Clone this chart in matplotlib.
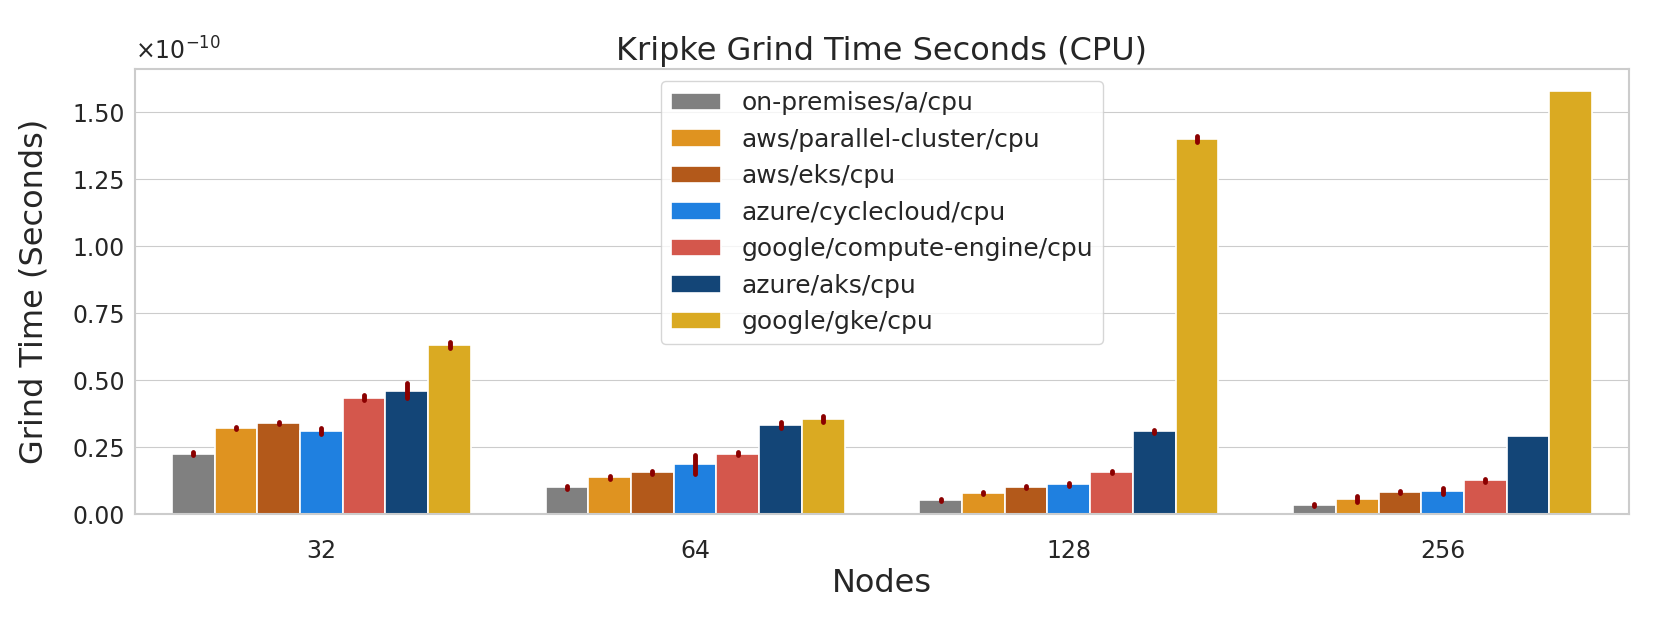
import matplotlib
matplotlib.use('Agg')
import matplotlib.pyplot as plt
import seaborn as sns
import numpy as np
from matplotlib.ticker import ScalarFormatter, MultipleLocator

sns.set_style("whitegrid")
plt.rcParams['font.family'] = ['DejaVu Sans']

nodes = ['32', '64', '128', '256']
envs = ['on-premises/a/cpu', 'aws/parallel-cluster/cpu', 'aws/eks/cpu',
        'azure/cyclecloud/cpu', 'google/compute-engine/cpu', 'azure/aks/cpu',
        'google/gke/cpu']
colors = ['#808080', '#DF9320', '#B3591A', '#1F80E0', '#D4574C', '#134577', '#DAAA22']

# mean grind time (x1e-10 s), one list per environment, ordered by nodes
on_prem   = [0.226, 0.100, 0.054, 0.035]
pcluster  = [0.322, 0.138, 0.080, 0.057]
eks       = [0.340, 0.156, 0.103, 0.084]
cyclecld  = [0.311, 0.186, 0.112, 0.087]
gce       = [0.435, 0.226, 0.158, 0.126]
aks       = [0.461, 0.333, 0.310, 0.293]
gke       = [0.631, 0.355, 1.401, 1.580]

# half-width of the error bars (x1e-10 s)
on_prem_err  = [0.005, 0.005, 0.004, 0.004]
pcluster_err = [0.005, 0.005, 0.004, 0.010]
eks_err      = [0.005, 0.005, 0.004, 0.004]
cyclecld_err = [0.010, 0.035, 0.005, 0.010]
gce_err      = [0.010, 0.006, 0.005, 0.006]
aks_err      = [0.027, 0.010, 0.005, 0.0]
gke_err      = [0.010, 0.010, 0.012, 0.0]

means = [on_prem, pcluster, eks, cyclecld, gce, aks, gke]
errs = [on_prem_err, pcluster_err, eks_err, cyclecld_err, gce_err, aks_err, gke_err]

fig, ax = plt.subplots(figsize=(16.61, 6.31), dpi=100)
fig.subplots_adjust(left=0.081, right=0.981, top=0.891, bottom=0.185)

x = np.arange(len(nodes))
n = len(envs)
w = 0.8 / n
for i, env in enumerate(envs):
    pos = x - 0.4 + w * (i + 0.5)
    vals = np.array(means[i]) * 1e-10
    ers = np.array(errs[i]) * 1e-10
    ax.bar(pos, vals, width=w, color=colors[i], edgecolor='white', linewidth=1.2, label=env)
    for p, v, e in zip(pos, vals, ers):
        if e > 0:
            ax.plot([p, p], [v - e, v + e], color='darkred', linewidth=3.5,
                    solid_capstyle='round', zorder=3)

ax.set_xlim(-0.5, 3.5)
ax.set_ylim(0, 1.662e-10)
ax.set_xticks(x)
ax.set_xticklabels(nodes)
ax.yaxis.set_major_locator(MultipleLocator(0.25e-10))
ax.yaxis.set_major_formatter(matplotlib.ticker.FuncFormatter(lambda v, p: '%.2f' % (v * 1e10)))
ax.tick_params(axis='both', labelsize=17)
ax.tick_params(axis='x', pad=14)
ax.set_xlabel('Nodes', fontsize=23)
ax.set_ylabel('Grind Time (Seconds)', fontsize=23, labelpad=16)
ax.set_title('Kripke Grind Time Seconds (CPU)', fontsize=23)
ax.grid(axis='x', visible=False)
for s in ax.spines.values():
    s.set_linewidth(1.5)
ax.legend(loc='upper center', fontsize=18, frameon=True)

# scale marker like the offset text of a sci formatter
ax.annotate(r'$\times\mathdefault{10^{-10}}$', xy=(0, 1), xycoords='axes fraction',
            xytext=(0, 3), textcoords='offset points', fontsize=17, va='bottom')

plt.savefig('out.png', dpi=100)
